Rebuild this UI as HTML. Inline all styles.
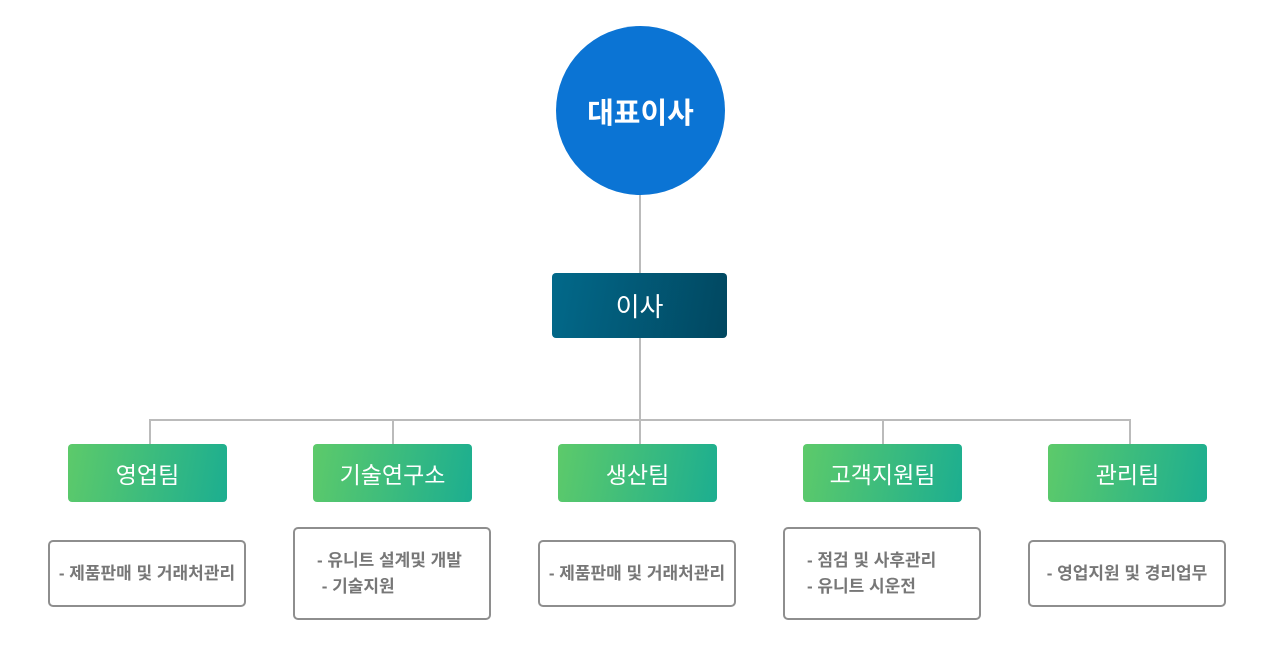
<!DOCTYPE html>
<html><head><meta charset="utf-8"><style>
body{margin:0;width:1280px;height:663px;background:#fff;position:relative;overflow:hidden;font-family:"Liberation Sans","Noto Sans CJK KR",sans-serif}
.a{position:absolute}
.ln{position:absolute;background:#bbb}
.g{position:absolute;top:444px;width:159px;height:58px;border-radius:4px;background:linear-gradient(100deg,#5dca6a,#1cae90);color:#fff;font-size:23px;display:flex;align-items:center;justify-content:center}
.d{position:absolute;width:194px;border:2px solid #8e8e8e;border-radius:5px;color:#777;font-size:17px;font-weight:bold;display:flex;align-items:center;justify-content:center;line-height:26px;white-space:nowrap}
</style></head><body>
<div class="ln" style="left:639px;top:190px;width:2px;height:230px"></div>
<div class="ln" style="left:149px;top:419px;width:982px;height:2px"></div>
<div class="ln" style="left:149px;top:420px;width:2px;height:24px"></div>
<div class="ln" style="left:392px;top:420px;width:2px;height:24px"></div>
<div class="ln" style="left:639px;top:420px;width:2px;height:24px"></div>
<div class="ln" style="left:882px;top:420px;width:2px;height:24px"></div>
<div class="ln" style="left:1129px;top:420px;width:2px;height:24px"></div>
<div class="a" style="left:556px;top:26px;width:169px;height:169px;border-radius:50%;background:#0b74d4;color:#fff;font-size:29px;font-weight:bold;display:flex;align-items:center;justify-content:center">대표이사</div>
<div class="a" style="left:552px;top:273px;width:175px;height:65px;border-radius:4px;background:linear-gradient(100deg,#02698a,#014760);color:#fff;font-size:26px;display:flex;align-items:center;justify-content:center">이사</div>
<div class="g" style="left:68px">영업팀</div>
<div class="g" style="left:313px">기술연구소</div>
<div class="g" style="left:558px">생산팀</div>
<div class="g" style="left:803px">고객지원팀</div>
<div class="g" style="left:1048px">관리팀</div>
<div class="d" style="left:48px;top:540px;height:63px">- 제품판매 및 거래처관리</div>
<div class="d" style="left:293px;top:527px;height:89px;justify-content:flex-start;padding-left:22px;width:172px">- 유니트 설계및 개발<br>&nbsp;- 기술지원</div>
<div class="d" style="left:538px;top:540px;height:63px">- 제품판매 및 거래처관리</div>
<div class="d" style="left:783px;top:527px;height:89px;justify-content:flex-start;padding-left:22px;width:172px">- 점검 및 사후관리<br>- 유니트 시운전</div>
<div class="d" style="left:1028px;top:540px;height:63px">- 영업지원 및 경리업무</div>
</body></html>
